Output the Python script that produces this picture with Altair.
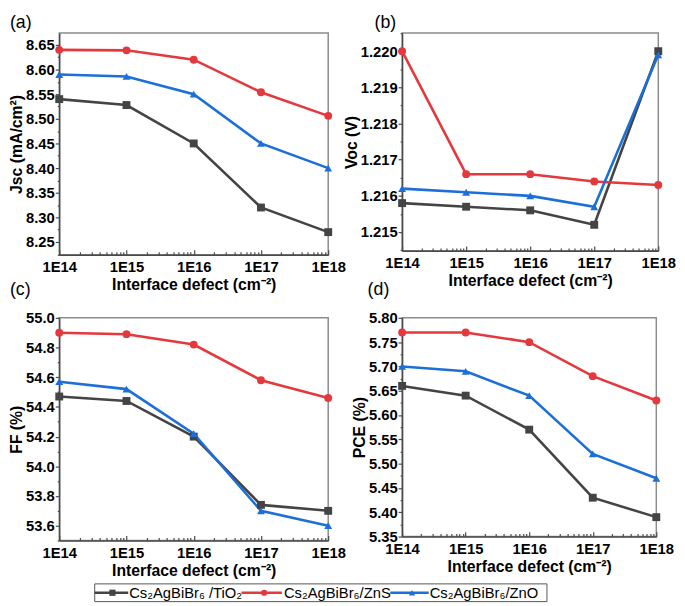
import altair as alt
import pandas as pd

# ---------------- data ----------------
defects = [1e14, 1e15, 1e16, 1e17, 1e18]
x_minor = [m * 10 ** e for e in range(14, 18) for m in range(2, 10)]
series = ["TiO2", "ZnS", "ZnO"]
series_labels = ["Cs₂AgBiBr₆ /TiO₂", "Cs₂AgBiBr₆/ZnS", "Cs₂AgBiBr₆/ZnO"]
colors = ["#444444", "#e5383d", "#1c6fd8"]
shapes = ["square", "circle", "triangle-up"]

jsc_tio2 = [8.540, 8.528, 8.450, 8.320, 8.270]
jsc_zns = [8.640, 8.639, 8.620, 8.554, 8.506]
jsc_zno = [8.590, 8.586, 8.550, 8.450, 8.400]

voc_tio2 = [1.2158, 1.2157, 1.2156, 1.2152, 1.2200]
voc_zns = [1.2200, 1.2166, 1.2166, 1.2164, 1.2163]
voc_zno = [1.2162, 1.2161, 1.2160, 1.2157, 1.2199]

ff_tio2 = [54.47, 54.44, 54.20, 53.74, 53.70]
ff_zns = [54.90, 54.89, 54.82, 54.58, 54.46]
ff_zno = [54.57, 54.52, 54.22, 53.70, 53.60]

pce_tio2 = [5.66, 5.64, 5.57, 5.43, 5.39]
pce_zns = [5.77, 5.77, 5.75, 5.68, 5.63]
pce_zno = [5.70, 5.69, 5.64, 5.52, 5.47]

jsc_ticks = [8.25, 8.30, 8.35, 8.40, 8.45, 8.50, 8.55, 8.60, 8.65]
jsc_minor = [8.225, 8.275, 8.325, 8.375, 8.425, 8.475, 8.525, 8.575, 8.625, 8.675]
voc_ticks = [1.215, 1.216, 1.217, 1.218, 1.219, 1.220]
voc_minor = [1.2145, 1.2155, 1.2165, 1.2175, 1.2185, 1.2195, 1.2205]
ff_ticks = [53.6, 53.8, 54.0, 54.2, 54.4, 54.6, 54.8, 55.0]
ff_minor = [53.5, 53.7, 53.9, 54.1, 54.3, 54.5, 54.7, 54.9]
pce_ticks = [5.35, 5.40, 5.45, 5.50, 5.55, 5.60, 5.65, 5.70, 5.75, 5.80]
pce_minor = [5.375, 5.425, 5.475, 5.525, 5.575, 5.625, 5.675, 5.725, 5.775]

table = {
    "Jsc": [jsc_tio2, jsc_zns, jsc_zno],
    "Voc": [voc_tio2, voc_zns, voc_zno],
    "FF": [ff_tio2, ff_zns, ff_zno],
    "PCE": [pce_tio2, pce_zns, pce_zno],
}
rows = []
for metric, lists in table.items():
    for s, vals in zip(series, lists):
        for d, v in zip(defects, vals):
            rows.append({"metric": metric, "series": s, "defect": d, "value": v})
df = pd.DataFrame(rows)

FONT = "Liberation Sans"
xs = alt.Scale(type="log", domain=[1e14, 1e18], nice=False)
col = alt.Color("series:N", scale=alt.Scale(domain=series, range=colors), legend=None)
shp = alt.Shape("series:N", scale=alt.Scale(domain=series, range=shapes), legend=None)


def panel(metric, ytitle, ydom, ymaj, ymin, yfmt, w, h, label, dx, toff, extra=()):
    base = alt.Chart(df).transform_filter(alt.datum.metric == metric)
    ys = alt.Scale(domain=ydom, nice=False, zero=False)
    lines = base.mark_line(strokeWidth=2.6).encode(
        x=alt.X("defect:Q", scale=xs, axis=alt.Axis(
            values=defects, labelExpr="'1E' + round(log(datum.value)/LN10)",
            title="Interface defect (cm⁻²)", tickSize=0, labelPadding=5,
            labelFlush=False, orient="bottom", titlePadding=2)),
        y=alt.Y("value:Q", scale=ys, axis=alt.Axis(
            values=ymaj, format=yfmt, title=ytitle, tickSize=4, labelPadding=1,
            orient="left", titlePadding=1)),
        color=col,
    )
    points = base.mark_point(filled=True, size=64, opacity=1).encode(
        x=alt.X("defect:Q", scale=xs, axis=None),
        y=alt.Y("value:Q", scale=ys, axis=None),
        color=col, shape=shp,
    )
    minor = base.mark_point(opacity=0).encode(
        x=alt.X("defect:Q", scale=xs, axis=alt.Axis(
            values=x_minor, labels=False, domain=False, tickSize=3, offset=-3,
            title="", orient="bottom")),
        y=alt.Y("value:Q", scale=ys, axis=alt.Axis(
            values=ymin, labels=False, domain=False, tickSize=2, title="",
            orient="left")),
    )
    major_in = base.mark_point(opacity=0).encode(
        x=alt.X("defect:Q", scale=xs, axis=alt.Axis(
            values=defects, labels=False, domain=False, tickSize=5, offset=-5,
            title="", orient="bottom")),
        y=alt.Y("value:Q", scale=ys, axis=None),
    )
    return alt.layer(lines, points, minor, major_in, *extra).resolve_axis(
        x="independent", y="independent"
    ).properties(
        width=w, height=h,
        title=alt.TitleParams(label, dx=dx, offset=toff, anchor="start", frame="group"),
    )


# ---------------- legend box (drawn below panel c) ----------------
leg_df = pd.DataFrame({"k": [0]})
LY = 226 + 44  # top of legend box, measured from the top of panel (c)
legend_layers = [
    alt.Chart(leg_df).mark_rect(fill="white", stroke="#555555", strokeWidth=1).encode(
        x=alt.value(36), x2=alt.value(495), y=alt.value(LY), y2=alt.value(LY + 18))
]
item_pos = [(36, 70, 54, 71), (185, 226, 208, 228), (336, 375, 358, 376)]
for (x0, x1, xm, xt), c, sh, lab in zip(item_pos, colors, shapes, series_labels):
    legend_layers.append(alt.Chart(leg_df).mark_rule(color=c, strokeWidth=2.5).encode(
        x=alt.value(x0), x2=alt.value(x1), y=alt.value(LY + 9)))
    legend_layers.append(alt.Chart(leg_df).mark_point(
        filled=True, shape=sh, size=40, color=c, opacity=1).encode(
        x=alt.value(xm), y=alt.value(LY + 9)))
    legend_layers.append(alt.Chart(leg_df).mark_text(
        align="left", baseline="middle", font=FONT, fontSize=15, color="black").encode(
        x=alt.value(xt), y=alt.value(LY + 9.5), text=alt.value(lab)))

pa = panel("Jsc", "Jsc (mA/cm²)", [8.224, 8.674], jsc_ticks, jsc_minor, ".2f", 273, 225, "(a)", -50, 1)
pb = panel("Voc", "Voc (V)", [1.21448, 1.22050], voc_ticks, voc_minor, ".3f", 260, 221, "(b)", -28, 1)
pc = panel("FF", "FF (%)", [53.5, 55.0], ff_ticks, ff_minor, ".1f", 273, 226, "(c)", -50, 12,
           extra=legend_layers)
pd_ = panel("PCE", "PCE (%)", [5.35, 5.80], pce_ticks, pce_minor, ".2f", 258, 222, "(d)", -35, 12)

chart = alt.concat(
    pa, pb, pc, pd_, columns=2, spacing={"row": 64, "column": 75}, bounds="flush"
).properties(
    padding=0
).configure_view(
    stroke="#8c8c8c", strokeWidth=1.5
).configure_axis(
    grid=False, labelFont=FONT, labelFontWeight="bold", labelFontSize=15,
    labelColor="black", titleFont=FONT, titleFontWeight="bold", titleFontSize=16,
    titleColor="black", domainColor="#4a4a4a", domainWidth=1.5,
    tickColor="#4a4a4a", tickWidth=1.2,
).configure_title(
    font=FONT, fontSize=18, fontWeight="normal", color="black"
)

chart.save("out.html", embed_options={"renderer": "svg", "actions": False})
